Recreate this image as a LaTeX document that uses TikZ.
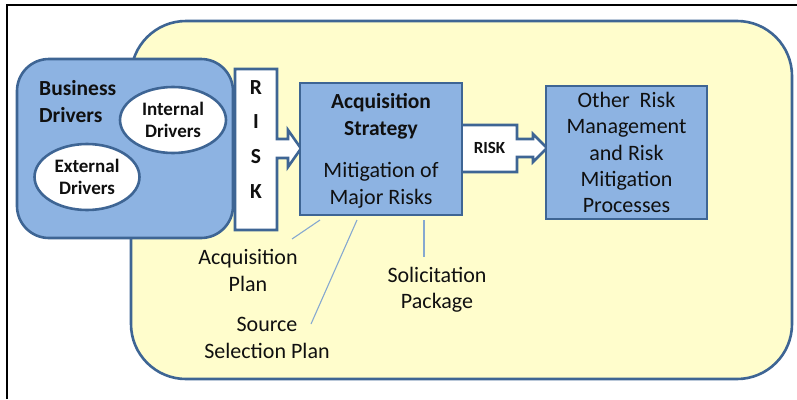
\documentclass[tikz,border=0pt]{standalone}
\usepackage{fontspec}
\setmainfont{Carlito}
\usetikzlibrary{shapes.geometric}
\begin{document}
\begin{tikzpicture}[x=1pt,y=-1pt,
  edge/.style={draw=edgeblue,line width=2.6pt},
  boxfill/.style={fill=boxblue,edge},
  txt/.style={text=ink,font=\fontsize{22}{26.5}\selectfont,align=center,inner sep=0pt},
  txtb/.style={txt,font=\fontsize{21.5}{27}\selectfont\bfseries},
  ovaltxt/.style={text=ink,font=\fontsize{19}{22.5}\selectfont\bfseries,align=center,inner sep=0pt},
  oval/.style={draw=edgeblue,line width=2.6pt,fill=white,ellipse,minimum height=66pt,inner sep=0pt},
  leader/.style={draw=leaderblue,line width=1.1pt}]
\definecolor{edgeblue}{HTML}{3E6594}
\definecolor{boxblue}{HTML}{8DB3E2}
\definecolor{paleyellow}{HTML}{FFFDCC}
\definecolor{leaderblue}{HTML}{86A8D0}
\definecolor{ink}{HTML}{101010}
\useasboundingbox (0,0) rectangle (797,399);
\fill[white] (0,0) rectangle (797,399);
% page frame: left and top rules only
\draw[black,line width=2.2pt] (7,399) -- (7,5) -- (797,5);

% large rounded background
\draw[fill=paleyellow,edge,rounded corners=55pt] (131,21) rectangle (792,379);

% business drivers group
\draw[boxfill,rounded corners=32pt] (17,59) rectangle (233,238);
\node[txtb,anchor=north west,align=left] (bd) at (39,80) {Business\\Drivers};
\node[oval,minimum width=106pt] (intd) at (173,120) {};
\node[ovaltxt] at (intd) {Internal\\Drivers};
\node[oval,minimum width=105pt] (extd) at (87,177) {};
\node[ovaltxt] at (extd) {External\\Drivers};

% vertical RISK callout arrow
\draw[fill=white,edge,line join=miter]
  (235,69) -- (277,69) -- (277,139) -- (288,139) -- (288,130) -- (301,148.5)
  -- (288,167) -- (288,158) -- (277,158) -- (277,230) -- (235,230) -- cycle;
\node[txtb] (r1) at (256,88) {R};
\node[txtb] (r2) at (256,122) {I};
\node[txtb] (r3) at (256,157) {S};
\node[txtb] (r4) at (256,192) {K};

% horizontal RISK callout arrow
\draw[fill=white,edge,line join=miter]
  (455,125) -- (517,125) -- (517,139) -- (533,139) -- (533,134) -- (547,148)
  -- (533,162) -- (533,157) -- (517,157) -- (517,172) -- (455,172) -- cycle;
\node[text=ink,font=\fontsize{17}{20}\selectfont\bfseries,inner sep=0pt] (risk) at (489.5,148) {RISK};

% acquisition strategy box
\node[boxfill,minimum width=162pt,minimum height=132pt,inner sep=0pt] (acq) at (381,149) {};
\node[txtb] (acqt) at (381,116) {Acquisition\\Strategy};
\node[txt] (mit) at (381,185.5) {Mitigation of\\Major Risks};

% other processes box
\node[boxfill,minimum width=161pt,minimum height=133pt,inner sep=0pt] (oth) at (626.5,152.5) {};
\node[txt,font=\fontsize{22}{26.3}\selectfont] (otht) at (626.5,152.5)
  {Other\ \ Risk\\Management\\and Risk\\Mitigation\\Processes};

% plan labels with leader lines
\node[txt] (ap) at (248,270.5) {Acquisition\\Plan};
\node[txt] (ssp) at (267,338) {Source\\Selection Plan};
\node[txt] (sp) at (437,289.5) {Solicitation\\Package};
\coordinate (a1) at (320,220);
\coordinate (a2) at (292,239);
\coordinate (s1) at (357,220);
\coordinate (s2) at (311,324);
\coordinate (p1) at (424,220);
\coordinate (p2) at (424,257);
\draw[leader] (a1) -- (a2);
\draw[leader] (s1) -- (s2);
\draw[leader] (p1) -- (p2);
\end{tikzpicture}
\end{document}
